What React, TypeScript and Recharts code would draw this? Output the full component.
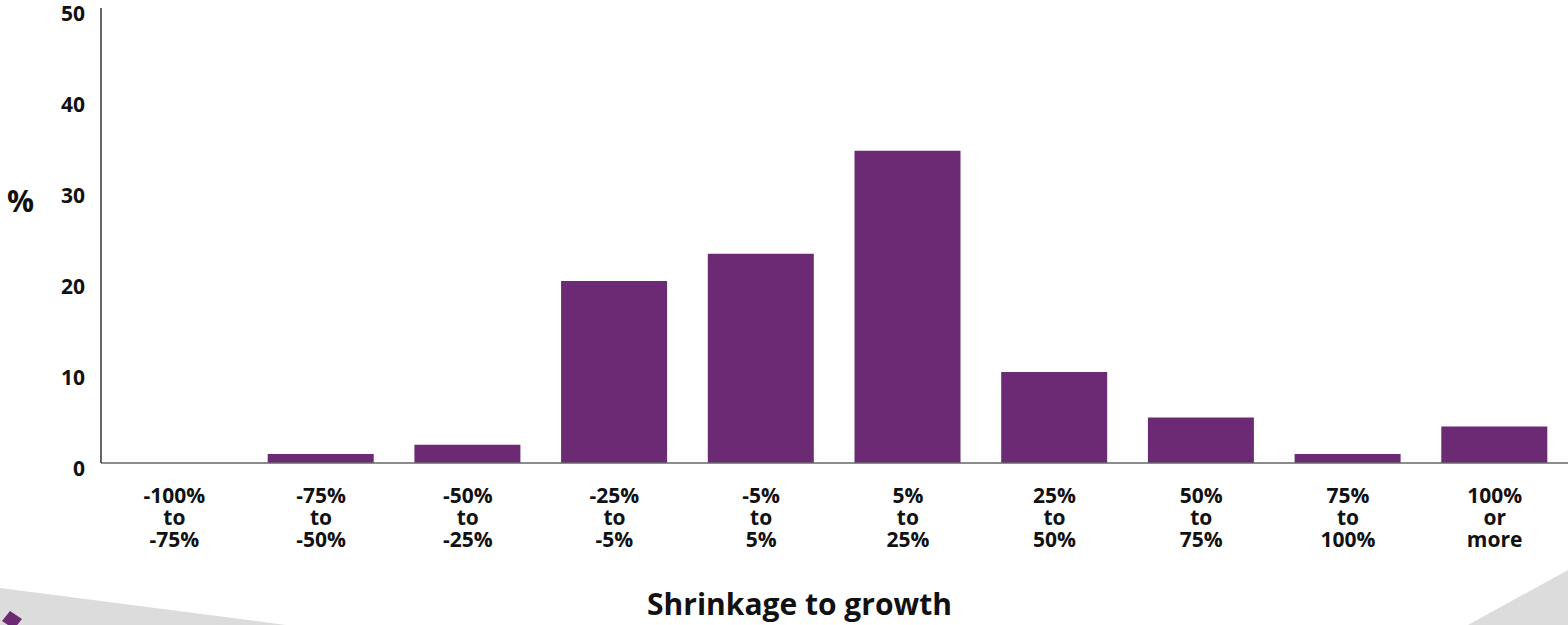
import React from 'react';
import { BarChart, Bar, XAxis, YAxis, Label } from 'recharts';

// bucket labels, each split into three lines
const bucketTop = ['-100%', '-75%', '-50%', '-25%', '-5%', '5%', '25%', '50%', '75%', '100%'];
const bucketMid = ['to', 'to', 'to', 'to', 'to', 'to', 'to', 'to', 'to', 'or'];
const bucketBottom = ['-75%', '-50%', '-25%', '-5%', '5%', '25%', '50%', '75%', '100%', 'more'];
const shares = [0, 1, 2, 20, 23, 34.3, 10, 5, 1, 4];
const yTicks = [0, 10, 20, 30, 40, 50];

const FONT = '"Open Sans", "Noto Sans", sans-serif';
const PURPLE = '#6b2a73';

const data = bucketTop.map((top, i) => ({
  key: `${top} ${bucketMid[i]} ${bucketBottom[i]}`,
  top,
  mid: bucketMid[i],
  bottom: bucketBottom[i],
  share: shares[i],
}));

const XTick = (props: any) => {
  const { x, y, payload } = props;
  const row = data[payload.index] || data.find((d) => d.key === payload.value);
  if (!row) return null;
  return (
    <text x={x} y={y} textAnchor="middle" fill="#111" fontFamily={FONT} fontWeight={700} fontSize={21}>
      <tspan x={x} dy={32}>{row.top}</tspan>
      <tspan x={x} dy={22}>{row.mid}</tspan>
      <tspan x={x} dy={22}>{row.bottom}</tspan>
    </text>
  );
};

const YTick = (props: any) => {
  const { x, y, payload } = props;
  return (
    <text x={x} y={y + 7} textAnchor="end" dominantBaseline="middle" fill="#111" fontFamily={FONT} fontWeight={700} fontSize={21}>
      {payload.value}
    </text>
  );
};

const App: React.FC = () => {
  return (
    <div style={{ position: 'absolute', left: 0, top: 0, width: 1568, height: 625, background: '#fff', overflow: 'hidden' }}>
      {/* background decoration */}
      <svg width={1568} height={625} style={{ position: 'absolute', left: 0, top: 0 }}>
        <polygon points="0,588 286,625 0,625" fill="#dcdcdd" />
        <polygon points="1468,625 1568,570 1568,625" fill="#dcdcdd" />
        <polygon points="10,611 22,619 14,629 2,621" fill={PURPLE} />
      </svg>
      <div style={{ position: 'absolute', left: 0, top: 0 }}>
        <BarChart width={1568} height={625} data={data} margin={{ top: 8, right: 0, left: 0, bottom: 0 }}>
          <XAxis
            dataKey="key"
            height={162}
            interval={0}
            tickLine={false}
            axisLine={{ stroke: '#666', strokeWidth: 1.5 }}
            tick={<XTick />}
          >
            <Label
              content={(p: any) => {
                const vb = p.viewBox;
                return (
                  <text x={vb.x + vb.width / 2 - 35} y={vb.y + 152} textAnchor="middle" fill="#111" fontFamily={FONT} fontWeight={700} fontSize={30}>
                    Shrinkage to growth
                  </text>
                );
              }}
            />
          </XAxis>
          <YAxis
            width={101}
            domain={[0, 50]}
            ticks={yTicks}
            interval={0}
            tickLine={false}
            tickMargin={10}
            axisLine={{ stroke: '#333', strokeWidth: 1.5 }}
            tick={<YTick />}
          >
            <Label
              content={() => (
                <text x={7} y={212} fill="#111" fontFamily={FONT} fontWeight={700} fontSize={30}>
                  %
                </text>
              )}
            />
          </YAxis>
          <Bar dataKey="share" fill={PURPLE} barSize={106} isAnimationActive={false} />
        </BarChart>
      </div>
    </div>
  );
};

export default App;
